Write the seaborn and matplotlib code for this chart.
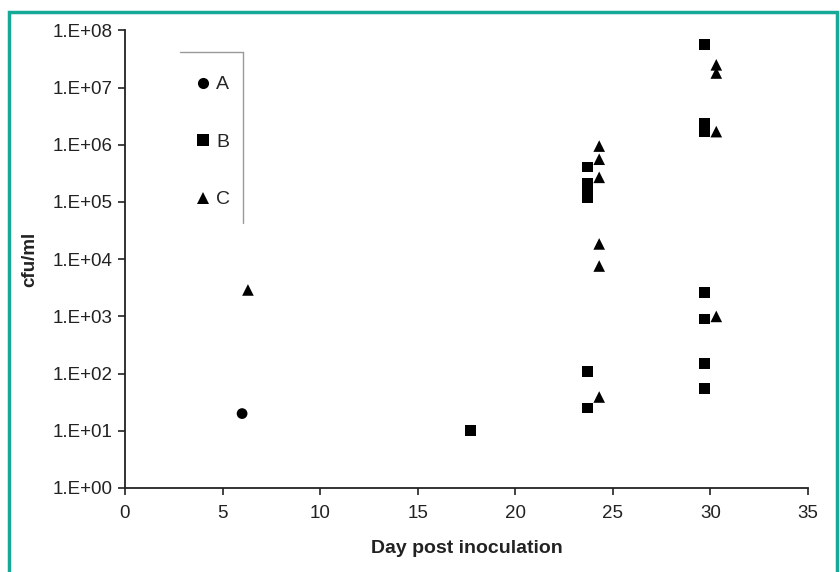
import matplotlib
matplotlib.use("Agg")
import matplotlib.pyplot as plt
import seaborn as sns
import pandas as pd
from matplotlib.lines import Line2D
from matplotlib.patches import Rectangle

# ---- data ----
days_A = [6.0]
cfu_A = [20]

days_B = [17.7, 23.7, 23.7, 23.7, 23.7, 23.7, 23.7,
          29.7, 29.7, 29.7, 29.7, 29.7, 29.7, 29.7]
cfu_B = [10, 4.1e5, 2.1e5, 1.6e5, 1.2e5, 110, 25,
         5.6e7, 2.4e6, 1.7e6, 2.6e3, 900, 150, 55]

days_C = [6.3, 24.3, 24.3, 24.3, 24.3, 24.3, 24.3,
          30.3, 30.3, 30.3, 30.3]
cfu_C = [2900, 9.5e5, 5.6e5, 2.7e5, 1.85e4, 7.6e3, 39,
         2.5e7, 1.8e7, 1.7e6, 1000]

groups = ["A", "B", "C"]
y_ticks = [1e0, 1e1, 1e2, 1e3, 1e4, 1e5, 1e6, 1e7, 1e8]
y_tick_labels = ["1.E+00", "1.E+01", "1.E+02", "1.E+03", "1.E+04",
                 "1.E+05", "1.E+06", "1.E+07", "1.E+08"]
x_ticks = [0, 5, 10, 15, 20, 25, 30, 35]

df = pd.DataFrame({
    "day": days_A + days_B + days_C,
    "cfu": cfu_A + cfu_B + cfu_C,
    "group": ["A"] * len(days_A) + ["B"] * len(days_B) + ["C"] * len(days_C),
})

sns.set_style("white")
plt.rcParams["font.family"] = ["Liberation Sans", "DejaVu Sans"]

fig = plt.figure(figsize=(8.4, 5.72), dpi=100)
ax = fig.add_axes([125 / 840, 1 - 488 / 572, (808 - 125) / 840, (488 - 30.4) / 572])

markers = {"A": "o", "B": "s", "C": "^"}
sizes = {"A": 60, "B": 60, "C": 70}
for g in groups:
    sub = df[df["group"] == g]
    sns.scatterplot(data=sub, x="day", y="cfu", marker=markers[g], color="black",
                    s=sizes[g], edgecolor="none", linewidth=0, ax=ax, label=g,
                    legend=False, clip_on=False)

ax.set_yscale("log")
ax.set_ylim(1, 1e8)
ax.set_xlim(0, 35)
ax.set_yticks(y_ticks)
ax.set_yticklabels(y_tick_labels)
ax.minorticks_off()
ax.set_xticks(x_ticks)
ax.set_xticklabels([str(v) for v in x_ticks])

for s in ["top", "right"]:
    ax.spines[s].set_visible(False)
for s in ["left", "bottom"]:
    ax.spines[s].set_color("#222222")
    ax.spines[s].set_linewidth(1.3)
ax.tick_params(axis="both", which="major", direction="out", length=5, width=1.2,
               color="#222222", labelsize=13.5, labelcolor="#222222", pad=4,
               left=True, bottom=True)
ax.tick_params(axis="x", pad=7)

ax.set_xlabel("Day post inoculation", fontsize=14, fontweight="bold", labelpad=13,
              color="#222222")
ax.set_ylabel("cfu/ml", fontsize=13.5, fontweight="bold", color="#222222")
ax.yaxis.set_label_coords(-(125 - 38) / 683, 0.5)

# legend
handles = [Line2D([], [], marker=markers[g], color="black", linestyle="none",
                  markersize=8, markeredgewidth=0) for g in groups]
leg = ax.legend(handles, groups, frameon=False, fontsize=14, loc="upper left",
                bbox_to_anchor=((187 - 125) / 683, 1 - (68 - 30.4) / 457.6),
                borderaxespad=0, handlelength=0.8, handletextpad=0.3,
                labelspacing=2.05)

# legend border (top and right edges only)
fig.add_artist(Line2D([180 / 840, 243 / 840], [1 - 52 / 572, 1 - 52 / 572],
                      transform=fig.transFigure, color="#999999", lw=1.0))
fig.add_artist(Line2D([243 / 840, 243 / 840], [1 - 52 / 572, 1 - 223 / 572],
                      transform=fig.transFigure, color="#999999", lw=1.0))

# teal frame
fig.add_artist(Rectangle((9 / 840, -0.05), (837 - 9) / 840, (1 - 12 / 572) + 0.05,
                         transform=fig.transFigure, fill=False,
                         edgecolor="#17a998", lw=2.5))

fig.savefig("out.png", dpi=100)
